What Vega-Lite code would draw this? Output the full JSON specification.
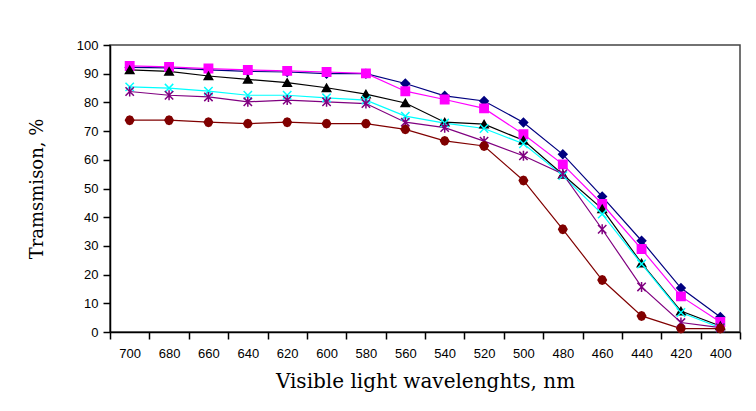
{
  "$schema": "https://vega.github.io/schema/vega-lite/v6.json",
  "width": 630,
  "height": 287,
  "autosize": {"type": "none"},
  "padding": {"left": 110, "top": 45, "right": 16, "bottom": 79},
  "background": "white",
  "config": {
    "view": {"stroke": "#444", "strokeWidth": 1.5},
    "axis": {"grid": false, "domainColor": "black", "tickColor": "black", "labelColor": "black", "titleColor": "black", "labelFont": "Liberation Sans", "labelFontSize": 13, "titleFont": "DejaVu Serif", "titleFontSize": 18, "titleFontWeight": "normal", "tickSize": 7, "domainWidth": 1.5, "tickWidth": 1.5}
  },
  "data": {
    "values": [
      {"s": "A", "wl": 700, "t": 92.2}, {"s": "A", "wl": 680, "t": 92.0}, {"s": "A", "wl": 660, "t": 91.3}, {"s": "A", "wl": 640, "t": 90.8}, {"s": "A", "wl": 620, "t": 90.6}, {"s": "A", "wl": 600, "t": 90.0}, {"s": "A", "wl": 580, "t": 90.0}, {"s": "A", "wl": 560, "t": 86.6}, {"s": "A", "wl": 540, "t": 82.3}, {"s": "A", "wl": 520, "t": 80.5}, {"s": "A", "wl": 500, "t": 73.0}, {"s": "A", "wl": 480, "t": 61.9}, {"s": "A", "wl": 460, "t": 47.2}, {"s": "A", "wl": 440, "t": 31.8}, {"s": "A", "wl": 420, "t": 15.3}, {"s": "A", "wl": 400, "t": 5.2},
      {"s": "B", "wl": 700, "t": 92.7}, {"s": "B", "wl": 680, "t": 92.4}, {"s": "B", "wl": 660, "t": 91.8}, {"s": "B", "wl": 640, "t": 91.3}, {"s": "B", "wl": 620, "t": 91.0}, {"s": "B", "wl": 600, "t": 90.6}, {"s": "B", "wl": 580, "t": 90.1}, {"s": "B", "wl": 560, "t": 83.9}, {"s": "B", "wl": 540, "t": 81.0}, {"s": "B", "wl": 520, "t": 77.9}, {"s": "B", "wl": 500, "t": 68.9}, {"s": "B", "wl": 480, "t": 58.4}, {"s": "B", "wl": 460, "t": 44.6}, {"s": "B", "wl": 440, "t": 28.9}, {"s": "B", "wl": 420, "t": 12.4}, {"s": "B", "wl": 400, "t": 3.5},
      {"s": "C", "wl": 700, "t": 91.3}, {"s": "C", "wl": 680, "t": 90.8}, {"s": "C", "wl": 660, "t": 89.2}, {"s": "C", "wl": 640, "t": 88.0}, {"s": "C", "wl": 620, "t": 86.9}, {"s": "C", "wl": 600, "t": 85.1}, {"s": "C", "wl": 580, "t": 82.9}, {"s": "C", "wl": 560, "t": 79.8}, {"s": "C", "wl": 540, "t": 73.1}, {"s": "C", "wl": 520, "t": 72.4}, {"s": "C", "wl": 500, "t": 66.8}, {"s": "C", "wl": 480, "t": 54.9}, {"s": "C", "wl": 460, "t": 42.9}, {"s": "C", "wl": 440, "t": 24.0}, {"s": "C", "wl": 420, "t": 7.3}, {"s": "C", "wl": 400, "t": 2.1},
      {"s": "D", "wl": 700, "t": 85.4}, {"s": "D", "wl": 680, "t": 85.0}, {"s": "D", "wl": 660, "t": 83.9}, {"s": "D", "wl": 640, "t": 82.5}, {"s": "D", "wl": 620, "t": 82.5}, {"s": "D", "wl": 600, "t": 81.6}, {"s": "D", "wl": 580, "t": 80.8}, {"s": "D", "wl": 560, "t": 75.2}, {"s": "D", "wl": 540, "t": 72.8}, {"s": "D", "wl": 520, "t": 70.9}, {"s": "D", "wl": 500, "t": 65.6}, {"s": "D", "wl": 480, "t": 54.5}, {"s": "D", "wl": 460, "t": 41.1}, {"s": "D", "wl": 440, "t": 23.7}, {"s": "D", "wl": 420, "t": 6.8}, {"s": "D", "wl": 400, "t": 1.5},
      {"s": "E", "wl": 700, "t": 83.8}, {"s": "E", "wl": 680, "t": 82.5}, {"s": "E", "wl": 660, "t": 81.9}, {"s": "E", "wl": 640, "t": 80.2}, {"s": "E", "wl": 620, "t": 80.8}, {"s": "E", "wl": 600, "t": 80.2}, {"s": "E", "wl": 580, "t": 79.6}, {"s": "E", "wl": 560, "t": 73.1}, {"s": "E", "wl": 540, "t": 71.2}, {"s": "E", "wl": 520, "t": 66.5}, {"s": "E", "wl": 500, "t": 61.4}, {"s": "E", "wl": 480, "t": 55.1}, {"s": "E", "wl": 460, "t": 35.8}, {"s": "E", "wl": 440, "t": 15.7}, {"s": "E", "wl": 420, "t": 3.3}, {"s": "E", "wl": 400, "t": 1.5},
      {"s": "F", "wl": 700, "t": 73.8}, {"s": "F", "wl": 680, "t": 73.8}, {"s": "F", "wl": 660, "t": 73.1}, {"s": "F", "wl": 640, "t": 72.6}, {"s": "F", "wl": 620, "t": 73.1}, {"s": "F", "wl": 600, "t": 72.6}, {"s": "F", "wl": 580, "t": 72.6}, {"s": "F", "wl": 560, "t": 70.6}, {"s": "F", "wl": 540, "t": 66.6}, {"s": "F", "wl": 520, "t": 64.8}, {"s": "F", "wl": 500, "t": 52.8}, {"s": "F", "wl": 480, "t": 35.8}, {"s": "F", "wl": 460, "t": 18.1}, {"s": "F", "wl": 440, "t": 5.6}, {"s": "F", "wl": 420, "t": 1.2}, {"s": "F", "wl": 400, "t": 1.2}
    ]
  },
  "encoding": {
    "x": {"field": "wl", "type": "ordinal", "sort": "descending", "scale": {"paddingInner": 0, "paddingOuter": 0}, "axis": {"title": "Visible light wavelenghts, nm", "titleFontSize": 20, "labelAngle": 0, "tickBand": "extent", "labelPadding": 8, "titlePadding": 11}},
    "y": {"field": "t", "type": "quantitative", "scale": {"domain": [0, 100], "nice": false}, "axis": {"title": "Tramsmison, %", "values": [0, 10, 20, 30, 40, 50, 60, 70, 80, 90, 100], "labelPadding": 5, "titlePadding": 30}}
  },
  "layer": [
    {
      "mark": {"type": "line", "strokeWidth": 1.2},
      "encoding": {
        "color": {"field": "s", "type": "nominal", "legend": null, "scale": {"domain": ["A", "B", "C", "D", "E", "F"], "range": ["#000080", "#FF00FF", "#000000", "#00FFFF", "#800080", "#800000"]}}
      }
    },
    {
      "mark": {"type": "point", "size": 70, "strokeWidth": 1.5, "opacity": 1},
      "encoding": {
        "shape": {"field": "s", "type": "nominal", "legend": null, "scale": {"domain": ["A", "B", "C", "D", "E", "F"], "range": ["diamond", "square", "triangle-up", "M-1,-1L1,1M-1,1L1,-1", "M-1,-1L1,1M-1,1L1,-1M0,-1.2L0,1.2", "M-1,0L-0.55,-0.8L0,-1L0.55,-0.8L1,0L0.55,0.8L0,1L-0.55,0.8Z"]}},
        "fill": {"field": "s", "type": "nominal", "legend": null, "scale": {"domain": ["A", "B", "C", "D", "E", "F"], "range": ["#000080", "#FF00FF", "#000000", "transparent", "transparent", "#800000"]}},
        "stroke": {"field": "s", "type": "nominal", "legend": null, "scale": {"domain": ["A", "B", "C", "D", "E", "F"], "range": ["#000080", "#FF00FF", "#000000", "#00FFFF", "#800080", "#800000"]}}
      }
    }
  ]
}
